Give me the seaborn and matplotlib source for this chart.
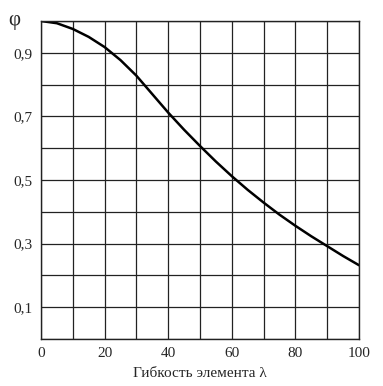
import matplotlib
matplotlib.use("Agg")
import matplotlib.pyplot as plt
import seaborn as sns
import pandas as pd

# curve
lam = [0, 5, 10, 15, 20, 25, 30, 35, 40, 45, 50,
       55, 60, 65, 70, 75, 80, 85, 90, 95, 100]
phi = [1.0, 0.993, 0.975, 0.95, 0.918, 0.877, 0.828, 0.77, 0.712, 0.658, 0.607,
       0.558, 0.512, 0.469, 0.429, 0.391, 0.356, 0.323, 0.292, 0.261, 0.232]
y_ticks = [0.1, 0.3, 0.5, 0.7, 0.9]
y_tick_labels = ["0,1", "0,3", "0,5", "0,7", "0,9"]
x_ticks = [0, 20, 40, 60, 80, 100]
x_label = "Гибкость элемента λ"
y_label = "φ"

df = pd.DataFrame({"lam": lam, "phi": phi})

sns.set_style("white")
plt.rcParams["font.family"] = ["Liberation Serif", "DejaVu Serif"]

fig = plt.figure(figsize=(3.83, 3.86), dpi=100)
ax = fig.add_axes([41 / 383, 1 - 339 / 386, 318 / 383, 318 / 386])

sns.lineplot(data=df, x="lam", y="phi", ax=ax, color="black", linewidth=1.8)

ax.set_xlim(0, 100)
ax.set_ylim(0, 1.0)
ax.grid(True, color="#222222", linewidth=0.9)
ax.set_axisbelow(True)
for s in ax.spines.values():
    s.set_color("#222222")
    s.set_linewidth(1.0)

# grid every 10 / 0.1, labels only on some ticks
ax.set_xticks(range(0, 101, 10))
ax.set_xticklabels([str(t) if t in x_ticks else "" for t in range(0, 101, 10)])
yt = [i / 10 for i in range(0, 11)]
ax.set_yticks(yt)
lab_map = {round(v, 1): l for v, l in zip(y_ticks, y_tick_labels)}
ax.set_yticklabels([lab_map.get(round(v, 1), "") for v in yt])
ax.tick_params(length=0, labelsize=11, pad=6)
ax.set_xlabel(x_label, fontsize=11, labelpad=5)
ax.set_ylabel("")
ax.text(-0.065, 1.0, y_label, transform=ax.transAxes, fontsize=15,
        ha="right", va="center")

fig.savefig("out.png", dpi=100)
